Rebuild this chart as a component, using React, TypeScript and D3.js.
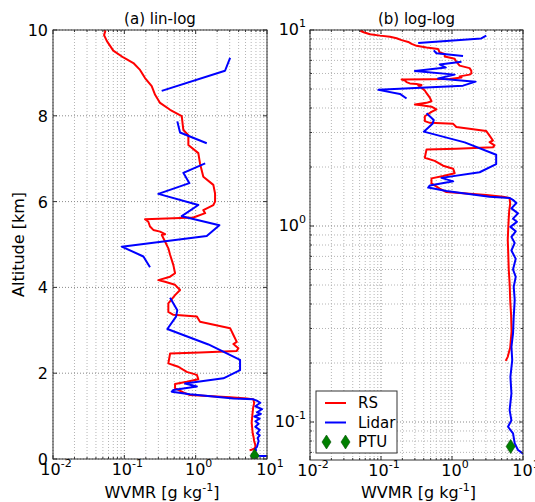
import React from "react";
import * as d3 from "d3";

// RS (radiosonde) profile: altitude [km] and water vapour mixing ratio [g/kg]
const rsAltitude = [
  10.0, 9.97, 9.88, 9.74, 9.52, 9.36, 9.23, 9.07, 8.88, 8.69, 8.49, 8.3, 8.14, 7.99, 7.79, 7.67,
  7.55, 7.32, 7.13, 6.89, 6.58, 6.39, 6.19, 6.0, 5.92, 5.8, 5.73, 5.63, 5.61, 5.59, 5.53, 5.42,
  5.34, 5.3, 5.24, 5.22, 5.07, 4.91, 4.76, 4.52, 4.33, 4.25, 4.17, 4.13, 4.06, 3.94, 3.82, 3.63,
  3.43, 3.36, 3.32, 3.2, 3.05, 2.89, 2.73, 2.68, 2.58, 2.52, 2.48, 2.46, 2.23, 2.15, 2.03, 1.96,
  1.86, 1.8, 1.75, 1.65, 1.55, 1.49, 1.44, 1.41, 1.39, 1.3, 1.2, 1.1, 0.98, 0.85, 0.72, 0.6,
  0.5, 0.42, 0.35, 0.29, 0.24, 0.215, 0.205,
];
const rsWvmr = [
  0.052, 0.054, 0.052, 0.057, 0.07, 0.097, 0.134, 0.166, 0.195, 0.242, 0.27, 0.317, 0.438, 0.638,
  0.659, 0.672, 0.79, 0.79, 1.09, 1.15, 1.28, 1.77, 1.87, 1.87, 1.77, 1.28, 1.36, 0.93, 0.487,
  0.195, 0.217, 0.229, 0.255, 0.317, 0.372, 0.335, 0.372, 0.414, 0.438, 0.487, 0.514, 0.438, 0.3,
  0.372, 0.514, 0.604, 0.514, 0.414, 0.414, 0.487, 1.04, 1.15, 3.04, 3.38, 3.77, 3.38, 3.97, 3.77,
  1.15, 0.438, 0.414, 0.571, 0.75, 1.04, 1.09, 0.75, 0.514, 0.514, 0.672, 0.834, 3.04, 5.21, 6.45,
  6.6, 6.4, 6.3, 6.2, 6.1, 6.2, 6.3, 6.5, 6.6, 6.8, 6.9, 6.6, 6.1, 5.7,
];

// Lidar profile (NaN marks data gaps)
const lidarAltitude = [
  9.35, 9.05, 8.58, NaN, 7.87, 7.61, 7.36, NaN, 6.89, 6.67, 6.43, 6.18, 5.92, 5.66, 5.45, 5.2, 4.95,
  4.72, 4.47, NaN, 3.76, 3.47, 3.32, 3.03, 2.67, 2.31, 2.07, 1.88, 1.76, 1.69, 1.61, 1.57, 1.51,
  1.41, 1.39, 1.36, 1.31, 1.23, 1.16, 1.09, 1.05, 0.99, 0.94, 0.88, 0.82, 0.75, 0.68, 0.6, 0.55,
  0.49, 0.42, 0.344, 0.283, 0.242, 0.207, 0.17, 0.14, 0.115, 0.102, 0.0946, 0.0875, 0.0778, 0.072,
  0.069, 0.066,
];
const lidarWvmr = [
  3.04, 2.58, 0.334, NaN, 0.553, 0.604, 1.43, NaN, 1.36, 0.672, 0.817, 0.3, 1.09, 0.638, 2.15, 1.43,
  0.092, 0.185, 0.229, NaN, 0.438, 0.553, 0.531, 0.401, 1.51, 4.19, 4.19, 2.45, 0.71, 1.04, 0.487,
  0.462, 0.834, 3.38, 6.45, 7.19, 8.07, 6.87, 8.5, 7.24, 8.2, 6.65, 7.9, 6.87, 7.64, 6.87, 7.9,
  7.24, 7.9, 7.4, 7.64, 7.4, 7.24, 6.87, 7.05, 6.65, 6.87, 6.48, 6.87, 6.15, 7.24, 7.64, 8.5, 10,
  13,
];

// PTU surface station
const ptuAltitude = [0.075];
const ptuWvmr = [6.7];

const linAltTicks = [0, 2, 4, 6, 8, 10];
const logDecades = [-2, -1, 0, 1];
const logAltDecades = [-1, 0, 1];

const W = 535;
const H = 502;
const font = "DejaVu Sans, sans-serif";

type Panel = {
  key: string;
  title: string;
  left: number;
  right: number;
  top: number;
  bottom: number;
  logY: boolean;
};

const panels: Panel[] = [
  { key: "a", title: "(a) lin-log", left: 53, right: 267, top: 30, bottom: 459, logY: false },
  { key: "b", title: "(b) log-log", left: 310, right: 523, top: 30, bottom: 460, logY: true },
];

function minorsOf(decades: number[], lo: number, hi: number) {
  const out: number[] = [];
  decades.forEach((e) => {
    for (let m = 2; m <= 9; m++) {
      const v = m * Math.pow(10, e);
      if (v > lo && v < hi) out.push(v);
    }
  });
  return out;
}

function Pow10({ x, y, e, anchor }: { x: number; y: number; e: number; anchor: string }) {
  return (
    <text x={x} y={y} textAnchor={anchor} fontFamily={font} fontSize={16} fill="#000">
      10
      <tspan dy={-8} fontSize={11}>
        {e}
      </tspan>
    </text>
  );
}

// PTU marker: thin diamond like matplotlib's 'd'
const diamondPath = "M0,-7 L4.5,0 L0,7 L-4.5,0 Z";

function ChartPanel({ p }: { p: Panel }) {
  const x = d3.scaleLog().domain([0.01, 10]).range([p.left, p.right]);
  const y = p.logY
    ? d3.scaleLog().domain([0.064, 10]).range([p.bottom, p.top])
    : d3.scaleLinear().domain([0, 10]).range([p.bottom, p.top]);

  const mk = (alt: number[], val: number[]) =>
    d3
      .line<number>()
      .defined((i) => !isNaN(alt[i]) && !isNaN(val[i]))
      .x((i) => x(val[i]))
      .y((i) => y(alt[i]))(d3.range(alt.length)) || "";

  const xMinor = minorsOf(logDecades, 0.01, 10);
  const xMajor = logDecades.map((e) => Math.pow(10, e));
  const yMajor = p.logY ? logAltDecades.map((e) => Math.pow(10, e)) : linAltTicks;
  const yMinor = p.logY ? minorsOf([-2, -1, 0], 0.064, 10) : [];
  const clipId = `clip-${p.key}`;
  const majorGrid = { stroke: "#8a8a8a", strokeWidth: 1, strokeDasharray: "1,2" };
  const minorGrid = { stroke: "#b4b4b4", strokeWidth: 1, strokeDasharray: "1,2" };

  return (
    <g>
      <defs>
        <clipPath id={clipId}>
          <rect x={p.left} y={p.top} width={p.right - p.left} height={p.bottom - p.top} />
        </clipPath>
      </defs>
      {/* grid */}
      {xMinor.map((v) => (
        <line key={"xm" + v} x1={x(v)} x2={x(v)} y1={p.top} y2={p.bottom} {...minorGrid} />
      ))}
      {xMajor.map((v) => (
        <line key={"xM" + v} x1={x(v)} x2={x(v)} y1={p.top} y2={p.bottom} {...majorGrid} />
      ))}
      {yMinor.map((v) => (
        <line key={"ym" + v} x1={p.left} x2={p.right} y1={y(v)} y2={y(v)} {...minorGrid} />
      ))}
      {yMajor.map((v) => (
        <line key={"yM" + v} x1={p.left} x2={p.right} y1={y(v)} y2={y(v)} {...majorGrid} />
      ))}

      {/* data */}
      <g clipPath={`url(#${clipId})`}>
        <path d={mk(rsAltitude, rsWvmr)} fill="none" stroke="#ff0000" strokeWidth={2} strokeLinejoin="round" />
        <path d={mk(lidarAltitude, lidarWvmr)} fill="none" stroke="#0000ff" strokeWidth={2} strokeLinejoin="round" />
        {ptuAltitude.map((a, i) => (
          <path
            key={"ptu" + i}
            d={diamondPath}
            transform={`translate(${x(ptuWvmr[i])},${y(a)})`}
            fill="#008000"
            stroke="#004d00"
            strokeWidth={0.6}
          />
        ))}
      </g>

      {/* ticks (inward) */}
      {xMajor.map((v) => (
        <g key={"tx" + v}>
          <line x1={x(v)} x2={x(v)} y1={p.bottom} y2={p.bottom - 4} stroke="#333" />
          <line x1={x(v)} x2={x(v)} y1={p.top} y2={p.top + 4} stroke="#333" />
        </g>
      ))}
      {xMinor.map((v) => (
        <g key={"txm" + v}>
          <line x1={x(v)} x2={x(v)} y1={p.bottom} y2={p.bottom - 2} stroke="#333" />
          <line x1={x(v)} x2={x(v)} y1={p.top} y2={p.top + 2} stroke="#333" />
        </g>
      ))}
      {yMajor.map((v) => (
        <g key={"ty" + v}>
          <line x1={p.left} x2={p.left + 4} y1={y(v)} y2={y(v)} stroke="#333" />
          <line x1={p.right} x2={p.right - 4} y1={y(v)} y2={y(v)} stroke="#333" />
        </g>
      ))}
      {yMinor.map((v) => (
        <g key={"tym" + v}>
          <line x1={p.left} x2={p.left + 2} y1={y(v)} y2={y(v)} stroke="#333" />
          <line x1={p.right} x2={p.right - 2} y1={y(v)} y2={y(v)} stroke="#333" />
        </g>
      ))}

      <rect
        x={p.left}
        y={p.top}
        width={p.right - p.left}
        height={p.bottom - p.top}
        fill="none"
        stroke="#333"
        strokeWidth={1}
      />

      {/* tick labels */}
      {logDecades.map((e) => (
        <Pow10 key={"lx" + e} x={x(Math.pow(10, e)) + 3} y={p.bottom + 16} e={e} anchor="middle" />
      ))}
      {p.logY
        ? logAltDecades.map((e) => (
            <Pow10 key={"ly" + e} x={p.left - 4} y={y(Math.pow(10, e)) + 5} e={e} anchor="end" />
          ))
        : linAltTicks.map((v) => (
            <text
              key={"ly" + v}
              x={p.left - 5}
              y={y(v) + 6}
              textAnchor="end"
              fontFamily={font}
              fontSize={16}
            >
              {v}
            </text>
          ))}

      {/* titles */}
      <text x={(p.left + p.right) / 2} y={p.top - 6} textAnchor="middle" fontFamily={font} fontSize={15}>
        {p.title}
      </text>
      <text x={(p.left + p.right) / 2 + 2} y={H - 4} textAnchor="middle" fontFamily={font} fontSize={16}>
        WVMR [g kg
        <tspan dy={-7} fontSize={11}>
          -1
        </tspan>
        <tspan dy={7}>]</tspan>
      </text>
    </g>
  );
}

function Legend({ left, top }: { left: number; top: number }) {
  const items = [
    { label: "RS", color: "#ff0000", kind: "line" },
    { label: "Lidar", color: "#0000ff", kind: "line" },
    { label: "PTU", color: "#008000", kind: "marker" },
  ];
  return (
    <g transform={`translate(${left},${top})`}>
      <rect x={0} y={0} width={81} height={62} fill="#fff" stroke="#333" strokeWidth={1} />
      {items.map((it, i) => {
        const cy = 12 + i * 19.5;
        return (
          <g key={it.label}>
            {it.kind === "line" ? (
              <line x1={9} x2={30} y1={cy} y2={cy} stroke={it.color} strokeWidth={2} />
            ) : (
              [10.5, 29.5].map((cx) => (
                <path
                  key={cx}
                  d={diamondPath}
                  transform={`translate(${cx},${cy})`}
                  fill={it.color}
                  stroke="#004d00"
                  strokeWidth={0.6}
                />
              ))
            )}
            <text x={42} y={cy + 5} fontFamily={font} fontSize={15}>
              {it.label}
            </text>
          </g>
        );
      })}
    </g>
  );
}

export default function App() {
  return (
    <svg
      width={W}
      height={H}
      style={{ position: "absolute", left: 0, top: 0, background: "#fff" }}
    >
      {panels.map((p) => (
        <ChartPanel key={p.key} p={p} />
      ))}
      <text
        transform={`translate(24,${(30 + 459) / 2}) rotate(-90)`}
        textAnchor="middle"
        fontFamily={font}
        fontSize={16}
      >
        Altitude [km]
      </text>
      <Legend left={316} top={391} />
    </svg>
  );
}
